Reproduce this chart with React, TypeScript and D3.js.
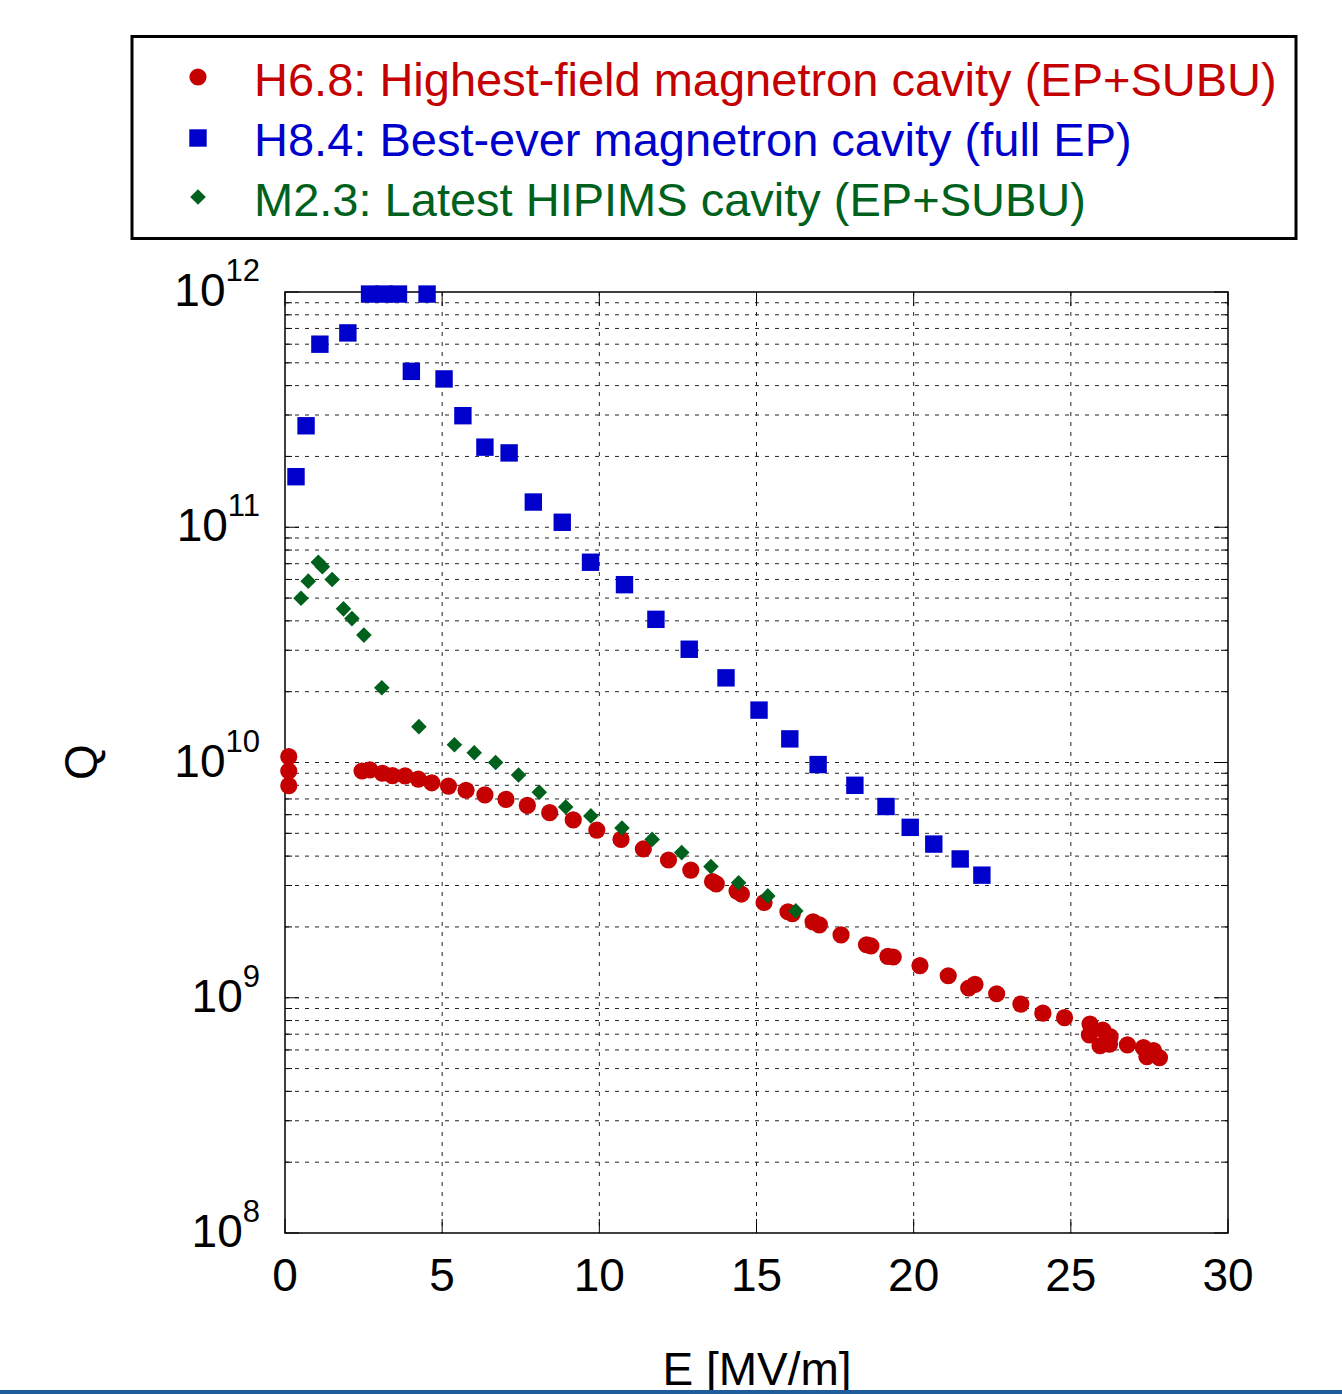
import React from "react";
import * as d3 from "d3";

// ---- Data (E [MV/m], Q) ----
const redE = [0.12, 0.12, 0.12, 2.45, 2.7, 3.1, 3.42, 3.82, 4.24, 4.67, 5.2, 5.76, 6.36, 7.03, 7.71, 8.42, 9.17, 9.92, 10.69, 11.4, 12.2, 12.91, 13.6, 13.72, 14.38, 14.52, 15.24, 16.0, 16.14, 16.8, 17.0, 17.69, 18.5, 18.64, 19.18, 19.35, 20.2, 21.1, 21.75, 21.95, 22.64, 23.41, 24.11, 24.8, 25.61, 25.59, 26.02, 26.25, 25.93, 26.23, 26.8, 27.31, 27.63, 27.42, 27.82];
const redQ = [1.06e10, 9.2e9, 7.97e9, 9.2e9, 9.3e9, 9.0e9, 8.8e9, 8.77e9, 8.5e9, 8.2e9, 7.94e9, 7.62e9, 7.28e9, 6.97e9, 6.57e9, 6.12e9, 5.7e9, 5.16e9, 4.71e9, 4.29e9, 3.85e9, 3.49e9, 3.12e9, 3.05e9, 2.84e9, 2.76e9, 2.54e9, 2.32e9, 2.28e9, 2.1e9, 2.04e9, 1.85e9, 1.68e9, 1.66e9, 1.5e9, 1.49e9, 1.37e9, 1.24e9, 1.1e9, 1.14e9, 1.04e9, 9.4e8, 8.6e8, 8.23e8, 7.73e8, 6.95e8, 7.29e8, 6.83e8, 6.25e8, 6.35e8, 6.3e8, 6.14e8, 5.96e8, 5.62e8, 5.56e8];

const blueE = [0.35, 0.67, 1.11, 2.0, 2.69, 3.15, 3.61, 4.52, 4.02, 5.06, 5.66, 6.36, 7.13, 7.9, 8.82, 9.72, 10.8, 11.8, 12.86, 14.03, 15.08, 16.06, 16.96, 18.13, 19.12, 19.89, 20.64, 21.48, 22.17];
const blueQ = [1.64e11, 2.7e11, 6.0e11, 6.7e11, 9.8e11, 9.8e11, 9.8e11, 9.8e11, 4.6e11, 4.27e11, 2.98e11, 2.19e11, 2.07e11, 1.28e11, 1.05e11, 7.1e10, 5.7e10, 4.06e10, 3.03e10, 2.29e10, 1.67e10, 1.26e10, 9.8e9, 8.0e9, 6.5e9, 5.3e9, 4.5e9, 3.89e9, 3.32e9];

const greenE = [0.51, 0.74, 1.06, 1.19, 1.5, 1.86, 2.13, 2.51, 3.08, 4.26, 5.39, 6.02, 6.7, 7.43, 8.09, 8.93, 9.73, 10.72, 11.68, 12.62, 13.55, 14.43, 15.36, 16.25];
const greenQ = [4.99e10, 5.9e10, 7.1e10, 6.8e10, 6.0e10, 4.5e10, 4.09e10, 3.48e10, 2.08e10, 1.42e10, 1.19e10, 1.1e10, 1.0e10, 8.85e9, 7.47e9, 6.47e9, 5.93e9, 5.27e9, 4.71e9, 4.14e9, 3.61e9, 3.08e9, 2.71e9, 2.34e9];

const legendLabels = [
  "H6.8: Highest-field magnetron cavity (EP+SUBU)",
  "H8.4: Best-ever magnetron cavity (full EP)",
  "M2.3: Latest HIPIMS cavity (EP+SUBU)",
];
const xTicks = [0, 5, 10, 15, 20, 25, 30];
const yDecades = [8, 9, 10, 11, 12];

const RED = "#c40000";
const BLUE = "#0000cc";
const GREEN = "#00611c";

export default function App() {
  const W = 1342, H = 1394;
  const L = 285, R = 1228, T = 292, B = 1233;
  const x = d3.scaleLinear().domain([0, 30]).range([L, R]);
  const y = d3.scaleLog().domain([1e8, 1e12]).range([B, T]);
  const font = "'Liberation Sans', Arial, Helvetica, sans-serif";

  const minorVals: number[] = [];
  for (let d = 8; d < 12; d++) for (let m = 2; m <= 9; m++) minorVals.push(m * Math.pow(10, d));
  const gridY = [...minorVals, 1e9, 1e10, 1e11];

  const circle = (cx: number, cy: number, k: string) => <circle key={k} cx={cx} cy={cy} r={8.6} fill={RED} />;
  const square = (cx: number, cy: number, k: string) => <rect key={k} x={cx - 8.7} y={cy - 8.7} width={17.4} height={17.4} fill={BLUE} />;
  const diamond = (cx: number, cy: number, k: string) => (
    <path key={k} d={`M${cx},${cy - 7.8}L${cx + 7.8},${cy}L${cx},${cy + 7.8}L${cx - 7.8},${cy}Z`} fill={GREEN} />
  );

  return (
    <div style={{ position: "absolute", left: 0, top: 0 }}>
      <svg width={W} height={H} viewBox={`0 0 ${W} ${H}`} style={{ display: "block", background: "#fff" }}>
        <rect width={W} height={H} fill="#fff" />
        {/* Legend */}
        <rect x={132} y={36.5} width={1164} height={202} fill="none" stroke="#000" strokeWidth={3} />
        {[RED, BLUE, GREEN].map((c, i) => (
          <g key={i}>
            {i === 0 && circle(198, 77, "lc")}
            {i === 1 && square(198, 138, "ls")}
            {i === 2 && diamond(198, 197, "ld")}
            <text x={254} y={96 + i * 60} fontFamily={font} fontSize={47} fill={c}>
              {legendLabels[i]}
            </text>
          </g>
        ))}

        {/* Grid */}
        {gridY.map((v, i) => (
          <line key={"gy" + i} x1={L} x2={R} y1={y(v)} y2={y(v)} stroke="#222" strokeWidth={1} strokeDasharray="4,6" />
        ))}
        {xTicks.slice(1, -1).map((v) => (
          <line key={"gx" + v} x1={x(v)} x2={x(v)} y1={T} y2={B} stroke="#222" strokeWidth={1} strokeDasharray="4,6" />
        ))}

        {/* Ticks */}
        {yDecades.map((d) => {
          const yy = y(Math.pow(10, d));
          return (
            <g key={"yt" + d}>
              <line x1={L} x2={L + 14} y1={yy} y2={yy} stroke="#000" strokeWidth={1} />
              <line x1={R} x2={R - 14} y1={yy} y2={yy} stroke="#000" strokeWidth={1} />
            </g>
          );
        })}
        {minorVals.map((v, i) => (
          <g key={"ym" + i}>
            <line x1={L} x2={L + 7} y1={y(v)} y2={y(v)} stroke="#000" strokeWidth={1} />
            <line x1={R} x2={R - 7} y1={y(v)} y2={y(v)} stroke="#000" strokeWidth={1} />
          </g>
        ))}
        {xTicks.map((v) => (
          <g key={"xt" + v}>
            <line x1={x(v)} x2={x(v)} y1={B} y2={B - 14} stroke="#000" strokeWidth={1} />
            <line x1={x(v)} x2={x(v)} y1={T} y2={T + 14} stroke="#000" strokeWidth={1} />
          </g>
        ))}

        {/* Frame */}
        <rect x={L} y={T} width={R - L} height={B - T} fill="none" stroke="#000" strokeWidth={1.5} />

        {/* Data */}
        {redE.map((e, i) => circle(x(e), y(redQ[i]), "r" + i))}
        {blueE.map((e, i) => square(x(e), y(blueQ[i]), "b" + i))}
        {greenE.map((e, i) => diamond(x(e), y(greenQ[i]), "g" + i))}

        {/* Tick labels */}
        {xTicks.map((v) => (
          <text key={"xl" + v} x={x(v)} y={1291} textAnchor="middle" fontFamily={font} fontSize={46} fill="#000">
            {v}
          </text>
        ))}
        {yDecades.map((d) => (
          <text key={"yl" + d} x={260} y={y(Math.pow(10, d)) + 14} textAnchor="end" fontFamily={font} fontSize={46} fill="#000">
            10
            <tspan dy={-25} fontSize={31}>{d}</tspan>
          </text>
        ))}

        {/* Axis titles */}
        <text transform="translate(97,762) rotate(-90)" textAnchor="middle" fontFamily={font} fontSize={46} fill="#000">
          Q
        </text>
        <text x={757} y={1385} textAnchor="middle" fontFamily={font} fontSize={46} fill="#000">
          E [MV/m]
        </text>

        {/* bottom band */}
        <rect x={0} y={1390} width={W} height={4} fill="#1f5c9c" />
      </svg>
    </div>
  );
}
